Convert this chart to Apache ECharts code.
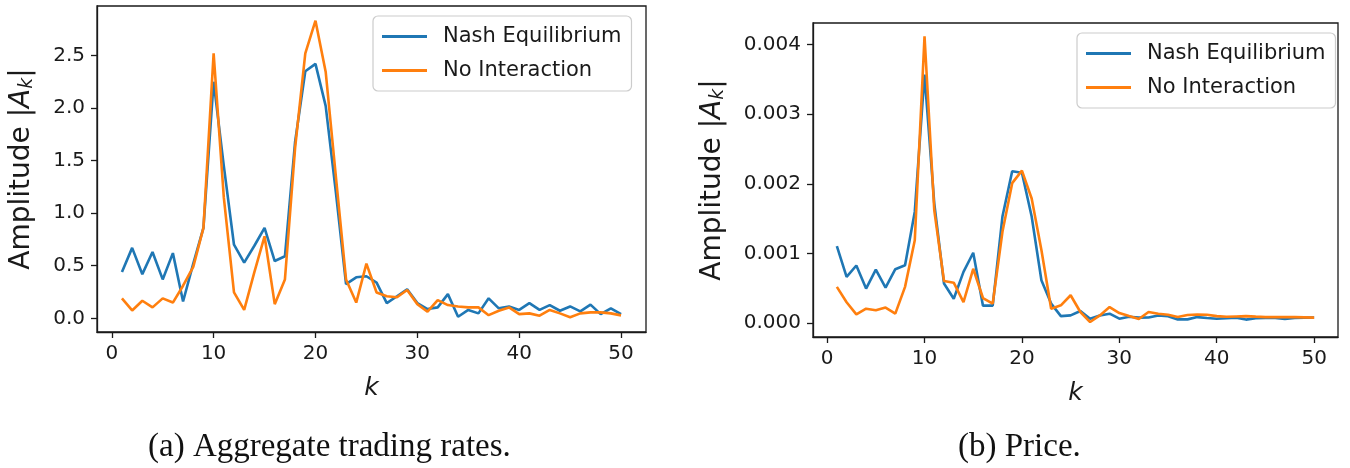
<!DOCTYPE html>
<html>
<head>
<meta charset="utf-8">
<script src="https://cdn.jsdelivr.net/npm/echarts@6/dist/echarts.min.js"></script>
<style>
  html, body { margin: 0; padding: 0; background: #fff; }
  #chart { width: 1350px; height: 468px; }
</style>
</head>
<body>
<div id="chart"></div>
<script>
// ---- data ----
const kValues = [1,2,3,4,5,6,7,8,9,10,11,12,13,14,15,16,17,18,19,20,21,22,23,24,25,26,27,28,29,30,31,32,33,34,35,36,37,38,39,40,41,42,43,44,45,46,47,48,49,50];
const seriesNames = ['Nash Equilibrium', 'No Interaction'];

const tradingNash = [0.44,0.67,0.42,0.63,0.37,0.62,0.16,0.52,0.86,2.25,1.45,0.70,0.53,0.69,0.86,0.545,0.59,1.68,2.35,2.42,2.02,1.20,0.325,0.39,0.40,0.34,0.145,0.21,0.277,0.145,0.088,0.104,0.23,0.015,0.08,0.047,0.19,0.095,0.113,0.08,0.145,0.08,0.126,0.072,0.113,0.066,0.13,0.04,0.095,0.04];
const tradingNoInt = [0.19,0.075,0.167,0.104,0.19,0.15,0.31,0.49,0.86,2.52,1.15,0.246,0.08,0.44,0.78,0.135,0.37,1.62,2.52,2.83,2.345,1.35,0.37,0.15,0.52,0.246,0.21,0.20,0.27,0.135,0.063,0.173,0.126,0.113,0.104,0.104,0.03,0.072,0.104,0.04,0.047,0.025,0.08,0.047,0.01,0.047,0.057,0.057,0.047,0.028];

const priceNash = [0.001105,0.000663,0.000827,0.000495,0.000769,0.00051,0.000774,0.00083,0.0016,0.00357,0.00172,0.000568,0.00035,0.000735,0.00101,0.00025,0.00025,0.00153,0.00218,0.00216,0.00153,0.000615,0.00028,0.0001,0.00011,0.000173,0.000063,0.00011,0.000135,0.000063,0.00009,0.000078,0.00008,0.00011,0.000097,0.000053,0.000053,0.000086,0.000072,0.000063,0.00007,0.000078,0.00005,0.00007,0.000075,0.000072,0.00006,0.000072,0.000078,0.000078];
const priceNoInt = [0.00052,0.0003,0.000125,0.000207,0.000183,0.000222,0.000135,0.00052,0.00119,0.00412,0.00162,0.000605,0.00058,0.0003,0.00078,0.00036,0.00028,0.00131,0.00201,0.00219,0.00179,0.00105,0.000207,0.000255,0.0004,0.000159,0.000015,0.00011,0.00023,0.000144,0.0001,0.000058,0.000159,0.000135,0.00012,0.000086,0.000115,0.000124,0.00012,0.0001,0.00009,0.000095,0.0001,0.000092,0.000085,0.000085,0.000085,0.000085,0.000082,0.000078];

const xTicks = [0,10,20,30,40,50];
const yTicksTrading = [0,0.5,1.0,1.5,2.0,2.5];
const yTicksPrice = [0,0.001,0.002,0.003,0.004];
const captions = ['(a) Aggregate trading rates.', '(b) Price.'];

// ---- styles ----
const BLUE = '#1f77b4', ORANGE = '#ff7f0e';
const SANS = 'DejaVu Sans';
const ink = '#1a1a1a';

function pairs(ys) { return kValues.map((k, i) => [k, ys[i]]); }

function xAxis(gi) {
  return {
    type: 'value', gridIndex: gi, min: -1.45, max: 52.45,
    name: 'k', nameLocation: 'middle', nameGap: 44,
    nameTextStyle: { fontFamily: SANS, fontSize: 25, fontStyle: 'italic', color: ink },
    axisLine: { show: true, onZero: false, lineStyle: { color: ink, width: 1.3 } },
    axisTick: { show: true, inside: false, length: 6, lineStyle: { color: ink, width: 1.3 }, customValues: xTicks },
    axisLabel: { fontFamily: SANS, fontSize: 20, color: ink, margin: 12, customValues: xTicks },
    splitLine: { show: false }
  };
}
function yAxis(gi, min, max, ticks, dec, gap) {
  return {
    type: 'value', gridIndex: gi, min: min, max: max,
    name: 'Amplitude |{it|A}{sub|k}|', nameLocation: 'middle', nameRotate: 90, nameGap: gap,
    nameTextStyle: {
      fontFamily: SANS, fontSize: 28, color: ink,
      rich: {
        it: { fontFamily: SANS, fontSize: 28, fontStyle: 'italic', color: ink },
        sub: { fontFamily: SANS, fontSize: 19, fontStyle: 'italic', color: ink, verticalAlign: 'bottom', padding: [11, 0, 0, 0] }
      }
    },
    axisLine: { show: true, onZero: false, lineStyle: { color: ink, width: 1.3 } },
    axisTick: { show: true, inside: false, length: 6, lineStyle: { color: ink, width: 1.3 }, customValues: ticks },
    axisLabel: { fontFamily: SANS, fontSize: 20, color: ink, margin: 12, customValues: ticks,
                 formatter: v => v.toFixed(dec) },
    splitLine: { show: false }
  };
}
function line(name, gi, ys, color) {
  return {
    type: 'line', name: name, xAxisIndex: gi, yAxisIndex: gi,
    data: pairs(ys), symbol: 'none', showSymbol: false,
    lineStyle: { color: color, width: 2.6 }, itemStyle: { color: color },
    emphasis: { disabled: true }, animation: false
  };
}
function legend(left, top) {
  return {
    data: seriesNames, orient: 'vertical', left: left, top: top,
    icon: 'rect', itemWidth: 45, itemHeight: 3, itemGap: 13,
    textStyle: { fontFamily: SANS, fontSize: 21, color: ink, lineHeight: 21, padding: [0, 0, 0, 11] },
    backgroundColor: 'rgba(255,255,255,0.8)', borderColor: '#cccccc', borderWidth: 1.2, borderRadius: 5,
    padding: [10, 10, 10, 9], selectedMode: false
  };
}

const chart = echarts.init(document.getElementById('chart'), null, { renderer: 'canvas' });
chart.setOption({
  animation: false,
  backgroundColor: '#ffffff',
  grid: [
    { left: 97, top: 6, width: 549, height: 326, show: true, borderColor: ink, borderWidth: 1.3, backgroundColor: 'transparent' },
    { left: 813, top: 23, width: 525, height: 314, show: true, borderColor: ink, borderWidth: 1.3, backgroundColor: 'transparent' }
  ],
  xAxis: [xAxis(0), xAxis(1)],
  yAxis: [
    yAxis(0, -0.13, 2.97, yTicksTrading, 1, 60),
    yAxis(1, -0.0002, 0.00431, yTicksPrice, 3, 85)
  ],
  legend: [legend(373, 16), legend(1077, 33)],
  series: [
    line(seriesNames[0], 0, tradingNash, BLUE),
    line(seriesNames[1], 0, tradingNoInt, ORANGE),
    line(seriesNames[0], 1, priceNash, BLUE),
    line(seriesNames[1], 1, priceNoInt, ORANGE)
  ],
  graphic: [
    { type: 'text', left: 148, top: 431, style: { text: captions[0], font: '33px "Liberation Serif"', fill: '#111' } },
    { type: 'text', left: 958, top: 431, style: { text: captions[1], font: '33px "Liberation Serif"', fill: '#111' } }
  ]
});
</script>
</body>
</html>
